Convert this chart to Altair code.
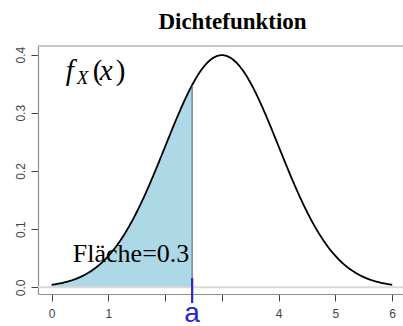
import statistics
import numpy as np
import pandas as pd
import altair as alt

# Normal density X ~ N(3, 1), shaded left tail with probability 0.3
MU = 3.0
SIGMA = 1.0
P_AREA = 0.3
X_RANGE = [0.0, 6.0]
X_TICKS = [0, 1, 2, 3, 4, 5, 6]
X_TICKS_HIDDEN = [2, 3]
Y_TICKS = [0.0, 0.1, 0.2, 0.3, 0.4]
TITLE = "Dichtefunktion"
AREA_LABEL = f"Fläche={P_AREA}"
AREA_LABEL_POS = [1.40, 0.0436]
FX_POS = [0.25, 0.357]
A_LABEL_Y = -0.06
A_MARK_Y = [0.016, -0.027]

PLOT_W, PLOT_H = 365, 248

dist = statistics.NormalDist(MU, SIGMA)
a = dist.inv_cdf(P_AREA)

xs = np.linspace(X_RANGE[0], X_RANGE[1], 301)
curve = pd.DataFrame({"x": xs, "y": [dist.pdf(v) for v in xs]})

xs_area = np.append(xs[xs < a], a)
area = pd.DataFrame({"x": xs_area, "y": [dist.pdf(v) for v in xs_area]})

x_scale = alt.Scale(domain=[-0.24, 6.19], nice=False, zero=False)
y_scale = alt.Scale(domain=[-0.0114, 0.4147], nice=False, zero=False)

hidden = " || ".join(f"datum.value == {v}" for v in X_TICKS_HIDDEN)
x_axis = alt.Axis(
    values=X_TICKS, format="d", labelExpr=f"({hidden}) ? '' : datum.label",
    title=None, grid=False, domainColor="#8f8f8f", domainWidth=1.2,
    tickColor="#444444", tickSize=7, tickWidth=1,
    labelFont="Liberation Sans", labelFontSize=12, labelColor="#444444",
    labelPadding=7,
)
y_axis = alt.Axis(
    values=Y_TICKS, format=".1f", title=None, grid=False,
    domainColor="#8f8f8f", domainWidth=1.2,
    tickColor="#444444", tickSize=7, tickWidth=1,
    labelFont="Liberation Sans", labelFontSize=12, labelColor="#444444",
    labelAngle=270, labelAlign="center", labelBaseline="bottom", labelPadding=4,
)

shade = alt.Chart(area).mark_area(color="#ADD8E6", opacity=1).encode(
    x=alt.X("x:Q", scale=x_scale, axis=x_axis),
    y=alt.Y("y:Q", scale=y_scale, axis=y_axis),
)

zero_line = alt.Chart().mark_rule(color="#dadada", strokeWidth=2).encode(
    y=alt.datum(0.0, type="quantitative"), x=alt.value(0), x2=alt.value(PLOT_W)
)

top_border = alt.Chart().mark_rule(color="#8f8f8f", strokeWidth=1.2).encode(
    y=alt.value(0), x=alt.value(0), x2=alt.value(PLOT_W)
)

density = alt.Chart(curve).mark_line(color="black", strokeWidth=1.8).encode(
    x="x:Q", y="y:Q"
)

a_df = pd.DataFrame({"x": [a], "y": [dist.pdf(a)], "lo": [0.0],
                     "m1": [A_MARK_Y[0]], "m2": [A_MARK_Y[1]], "ly": [A_LABEL_Y],
                     "t": ["a"]})

edge = alt.Chart(a_df).mark_rule(color="#555555", strokeWidth=1).encode(
    x="x:Q", y="lo:Q", y2="y:Q"
)

a_mark = alt.Chart(a_df).mark_rule(color="#2626CC", strokeWidth=2.2).encode(
    x="x:Q", y="m1:Q", y2="m2:Q"
)

a_text = alt.Chart(a_df).mark_text(
    font="Liberation Sans", fontSize=28, color="#2626CC",
    align="center", baseline="alphabetic"
).encode(x="x:Q", y="ly:Q", text="t:N")

lbl_df = pd.DataFrame({"x": [AREA_LABEL_POS[0]], "y": [AREA_LABEL_POS[1]], "t": [AREA_LABEL]})
area_text = alt.Chart(lbl_df).mark_text(
    font="Liberation Serif", fontSize=26, color="black",
    align="center", baseline="alphabetic"
).encode(x="x:Q", y="y:Q", text="t:N")

# f_X(x) built from pieces: italic f, subscript X, parentheses around italic x
fx_df = pd.DataFrame({"x": [FX_POS[0]], "y": [FX_POS[1]]})
def piece(txt, dx, size, italic, dy=0):
    return alt.Chart(fx_df).mark_text(
        text=txt, font="Liberation Serif", fontSize=size,
        fontStyle="italic" if italic else "normal", color="black",
        align="left", baseline="alphabetic", dx=dx, dy=dy
    ).encode(x="x:Q", y="y:Q")

fx = (piece("f", 0, 29, True) + piece("X", 11, 19, True, dy=4)
      + piece("(", 27, 29, False) + piece("x", 34, 29, True) + piece(")", 50, 29, False))

# heading above the plot frame, slightly right of centre
title = alt.Chart().mark_text(
    text=TITLE, font="Liberation Serif", fontSize=23, fontWeight="bold",
    color="black", align="center", baseline="alphabetic"
).encode(x=alt.value(PLOT_W / 2 + 12), y=alt.value(-17))

chart = alt.layer(
    shade, zero_line, top_border, density, edge, a_mark, a_text, area_text, fx, title
).properties(
    width=PLOT_W, height=PLOT_H,
    padding={"left": 38, "top": 46, "right": 0, "bottom": 32},
    autosize=alt.AutoSizeParams(type="none"),
).configure_view(stroke=None)

chart.save("out.html", embed_options={"renderer": "svg", "actions": False})
